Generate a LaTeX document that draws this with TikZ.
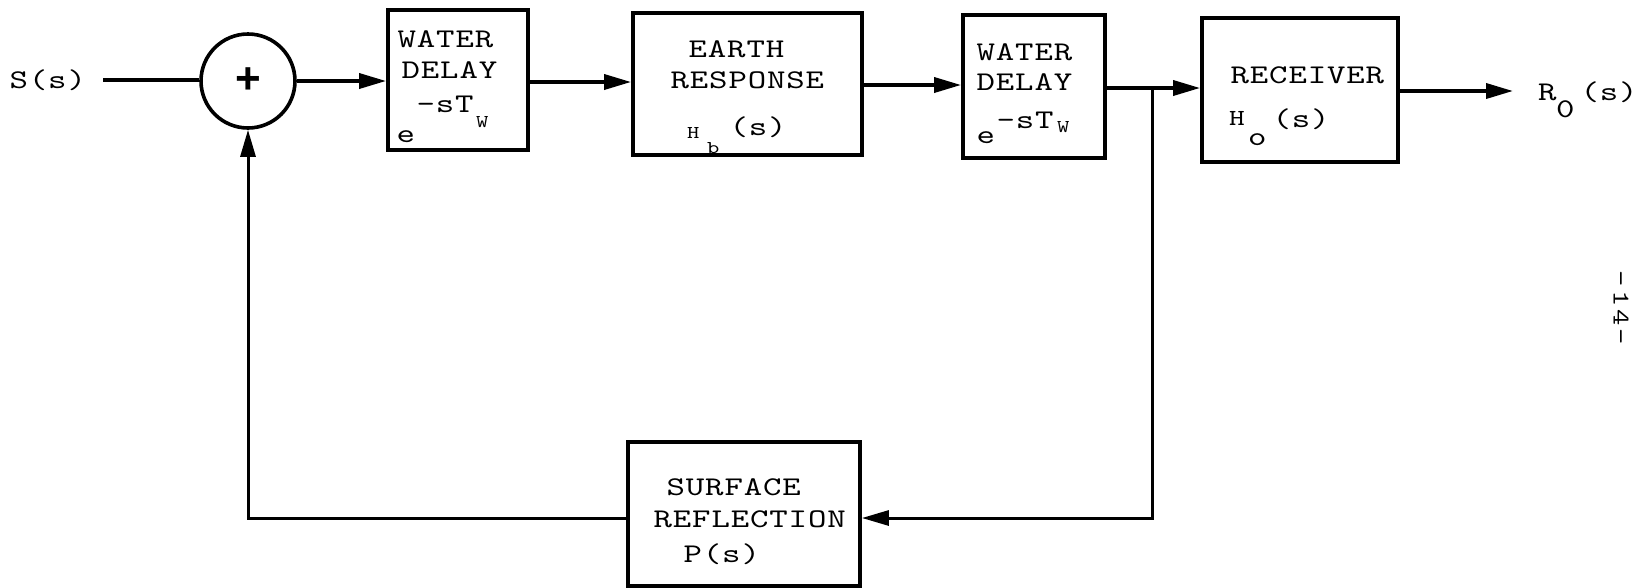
\documentclass[tikz,border=0pt]{standalone}
\usepackage{fontspec}
\setsansfont{Liberation Sans}
\newfontfamily\twfont[FakeStretch=1.3]{lmmono10-regular.otf}
\usetikzlibrary{arrows.meta}
% typewriter text: every character sits in a cell of fixed pitch
\newlength{\twpitch}
\setlength{\twpitch}{19.3pt}
\newcommand{\tw}[1]{\twloop#1\relax}
\def\twloop#1{\ifx\relax#1\else\makebox[\twpitch][c]{#1}\expandafter\twloop\fi}
\tikzset{
  blk/.style={draw, line width=3.8pt, inner sep=0pt},
  lbl/.style={font=\twfont\fontsize{27}{27}\selectfont, inner sep=0pt, anchor=base west},
  sublbl/.style={font=\twfont\fontsize{18}{18}\selectfont, inner sep=0pt, anchor=base west},
  midlbl/.style={font=\twfont\fontsize{23}{23}\selectfont, inner sep=0pt, anchor=base west},
  wire/.style={line width=3.6pt},
  fbwire/.style={line width=3pt},
  arr/.style={-{Triangle[length=27pt,width=15pt]}},
}
\begin{document}
\begin{tikzpicture}[x=1pt, y=-1pt]
\useasboundingbox (0,0) rectangle (1647,587);

% summing junction
\node[circle, draw, line width=3.6pt, minimum size=94pt, inner sep=0pt] (sum) at (248,81)
  {\sffamily\bfseries\fontsize{44}{44}\selectfont +};

% blocks
\node[blk, minimum width=140pt, minimum height=140pt] (wd1) at (458,80) {};
\node[blk, minimum width=229pt, minimum height=142pt] (earth) at (747.5,84) {};
\node[blk, minimum width=142pt, minimum height=143pt] (wd2) at (1034,86.5) {};
\node[blk, minimum width=196pt, minimum height=144pt] (rcv) at (1300,90) {};
\node[blk, minimum width=232pt, minimum height=144pt] (surf) at (744,514) {};

% water delay (first)
\node[lbl] (wd1a) at (397,47) {\tw{WATER}};
\node[lbl] (wd1b) at (401,78) {\tw{DELAY}};
\node[lbl] (wd1c) at (416,112) {\tw{-sT}};
\node[sublbl] (wd1d) at (476,127) {W};
\node[lbl] (wd1e) at (396,142) {\tw{e}};

% earth response
\node[lbl] (ea) at (688,57) {\tw{EARTH}};
\node[lbl] (eb) at (670,88) {\tw{RESPONSE}};
\node[sublbl] (ec) at (687,138) {H};
\node[sublbl] (ed) at (707,153) {b};
\node[lbl] (ee) at (729,135) {\tw{(s)}};

% water delay (second)
\node[lbl] (wd2a) at (976,60) {\tw{WATER}};
\node[lbl] (wd2b) at (976,90) {\tw{DELAY}};
\node[lbl] (wd2c) at (996,128) {\tw{-sT}};
\node[sublbl] (wd2d) at (1057,132) {W};
\node[lbl] (wd2e) at (976,143) {\tw{e}};

% receiver
\node[lbl] (ra) at (1230,83) {\tw{RECEIVER}};
\node[midlbl] (rb) at (1229,125) {H};
\node[lbl] (rc) at (1248,145) {o};
\node[lbl] (rd) at (1272,127) {\tw{(s)}};

% surface reflection
\node[lbl] (sa) at (666,495) {\tw{SURFACE}};
\node[lbl] (sb) at (653,527) {\tw{REFLECTION}};
\node[lbl] (sc) at (683,562) {\tw{P(s)}};

% input and output signals
\node[lbl] (in) at (9,88) {\tw{S(s)}};
\node[lbl] (outa) at (1538,100) {R};
\node[lbl] (outb) at (1556,117) {0};
\node[lbl] (outc) at (1580,100) {\tw{(s)}};

% page number
\node[font=\twfont\fontsize{24}{24}\selectfont, rotate=-90, inner sep=0pt] (pg) at (1621,308) {\tw{-14-}};

% forward path
\coordinate (s0) at (103,80);
\draw[wire] (s0) -- (sum.west |- s0);
\draw[wire, arr] (sum.east) -- (wd1.west |- sum.east);
\draw[wire, arr] (wd1.east |- 0,82) -- (earth.west |- 0,82);
\draw[wire, arr] (earth.east |- 0,85) -- (wd2.west |- 0,85);
\coordinate (br) at (1152,88);
\draw[wire] (wd2.east |- br) -- (br);
\draw[wire, arr] (br) -- (rcv.west |- br);
\coordinate (o1) at (1513,91);
\draw[wire, arr] (rcv.east |- o1) -- (o1);

% feedback path
\draw[fbwire, arr] (br) -- (br |- 0,518) -- (surf.east |- 0,518);
\draw[fbwire, arr] (surf.west |- 0,518) -| (sum.south);
\end{tikzpicture}
\end{document}
